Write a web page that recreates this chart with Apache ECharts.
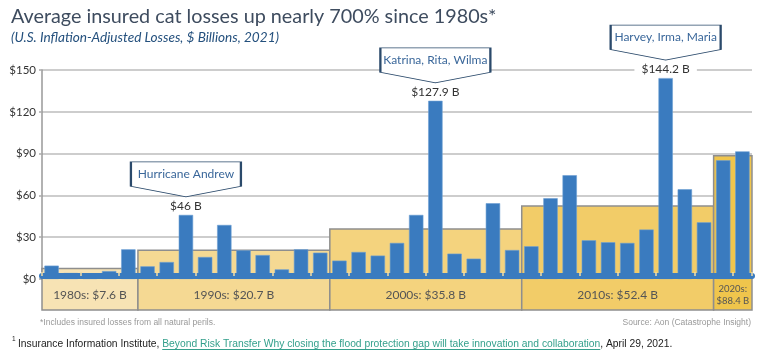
<!DOCTYPE html>
<html>
<head>
<meta charset="utf-8">
<script src="https://cdn.jsdelivr.net/npm/echarts@6/dist/echarts.min.js"></script>
<style>
html,body{margin:0;padding:0;background:#fff;}
#chart{width:763px;height:356px;}
</style>
</head>
<body>
<div id="chart"></div>
<script>
// ---- data ----
const years = ['1985','1986','1987','1988','1989',
  '1990','1991','1992','1993','1994','1995','1996','1997','1998','1999',
  '2000','2001','2002','2003','2004','2005','2006','2007','2008','2009',
  '2010','2011','2012','2013','2014','2015','2016','2017','2018','2019',
  '2020','2021'];
const losses = [9.6,4.3,3.6,5.7,21.3,
  9.1,12.2,46.0,15.8,38.8,20.6,17.2,6.9,21.3,18.9,
  13.2,19.4,16.8,25.9,46.0,127.9,18.2,14.6,54.4,20.8,
  23.5,58.0,74.5,27.8,26.4,25.9,35.5,144.2,64.4,40.7,
  85.2,91.6];
const decadeNames = ['1980s','1990s','2000s','2010s','2020s'];
const decadeStart = ['1985','1990','2000','2010','2020'];
const decadeEnd = ['1989','1999','2009','2019','2021'];
const decadeAvg = [7.6,20.7,35.8,52.4,88.4];
const decadeLabels = ['1980s: $7.6 B','1990s: $20.7 B','2000s: $35.8 B','2010s: $52.4 B','2020s:\n$88.4 B'];
const calloutYears = ['1992','2005','2017'];
const calloutNames = ['Hurricane Andrew','Katrina, Rita, Wilma','Harvey, Irma, Maria'];
const valueLabels = ['$46 B','$127.9 B','$144.2 B'];
const yTicks = [0,30,60,90,120,150];

// ---- styles ----
const decadeColors = ['#f7e3b4','#f5d993','#f4d37e','#f2cc68','#f0c54c'];
const barColor = '#3a7bbf';
const frameColor = '#8e8e8e';
const font = 'Lato, "Open Sans", sans-serif';

const decadeData = decadeNames.map((n,i)=>[years.indexOf(decadeStart[i]), years.indexOf(decadeEnd[i]), decadeAvg[i], i]);

const barData = losses.map((v,i)=>{
  const k = calloutYears.indexOf(years[i]);
  if (k < 0) return v;
  return {value: v, label: {show: true, position: 'top', distance: 2, formatter: valueLabels[k],
    color: '#333', fontSize: 12, fontFamily: font, backgroundColor: '#fff', padding: [1,7]}};
});

const chart = echarts.init(document.getElementById('chart'));

// footnote measurement
const mctx = document.createElement('canvas').getContext('2d');
function tw(txt, f){ mctx.font = f; return mctx.measureText(txt).width; }
const fnFont = '10.3px "Liberation Sans", Arial, sans-serif';
const fn1 = 'Insurance Information Institute, ';
const fn2 = 'Beyond Risk Transfer Why closing the flood protection gap will take innovation and collaboration';
const fn3 = ', April 29, 2021.';
const fx0 = 18, fy = 344;
const w1 = tw(fn1, fnFont), w2 = tw(fn2, fnFont);

chart.setOption({
  animation: false,
  title: {
    text: 'Average insured cat losses up nearly 700% since 1980s*',
    subtext: '(U.S. Inflation-Adjusted Losses, $ Billions, 2021)',
    left: 6, top: 2, itemGap: 4,
    textStyle: {fontSize: 19.8, fontWeight: 'normal', color: '#3e4c5f', fontFamily: font},
    subtextStyle: {fontSize: 13.6, fontStyle: 'italic', color: '#24507d', fontFamily: font}
  },
  grid: [
    {left: 42, right: 11, top: 70, bottom: 77, outerBoundsMode: 'none'},
    {left: 42, right: 11, top: 279, height: 31, outerBoundsMode: 'none'}
  ],
  xAxis: [
    {type: 'category', data: years, gridIndex: 0, z: 10, offset: -3,
      axisLine: {show: true, lineStyle: {color: barColor, width: 6}},
      axisTick: {show: true, inside: true, length: 4, lineStyle: {color: '#f4dea6', width: 1.5}},
      axisLabel: {show: false}, splitLine: {show: false}},
    {type: 'category', data: years, gridIndex: 1, show: false}
  ],
  yAxis: [
    {type: 'value', gridIndex: 0, min: 0, max: 150, interval: 30,
      axisLine: {show: true, lineStyle: {color: '#999', width: 1.5}},
      axisTick: {show: true, length: 3, lineStyle: {color: '#aaa', width: 1.5}},
      axisLabel: {formatter: v => '$' + v, color: '#333', fontSize: 11.5, fontFamily: font, margin: 6},
      splitLine: {show: true, lineStyle: {color: '#bdbdbd', width: 1.5}}},
    {type: 'value', gridIndex: 1, min: 0, max: 1, show: false}
  ],
  series: [
    {
      type: 'custom', xAxisIndex: 0, yAxisIndex: 0, z: 1, encode: {x: 0, y: 2},
      clip: false, silent: true,
      data: decadeData,
      renderItem: (params, api) => {
        const i0 = api.value(0), i1 = api.value(1), avg = api.value(2), ci = api.value(3);
        const bw = api.size([1, 0])[0];
        const p0 = api.coord([i0, avg]);
        const p1 = api.coord([i1, 0]);
        const x0 = p0[0] - bw / 2, x1 = p1[0] + bw / 2;
        return {type: 'group', children: [
          {type: 'rect', shape: {x: x0, y: p0[1], width: x1 - x0, height: p1[1] - p0[1]},
            style: {fill: decadeColors[ci]}},
          {type: 'polyline', shape: {points: [[x0, p1[1]], [x0, p0[1]], [x1, p0[1]], [x1, p1[1]]]},
            style: {fill: null, stroke: frameColor, lineWidth: 1.5}}
        ]};
      }
    },
    {
      type: 'custom', xAxisIndex: 1, yAxisIndex: 1, z: 1, encode: {x: 0, y: 2},
      clip: false, silent: true,
      data: decadeData,
      renderItem: (params, api) => {
        const i0 = api.value(0), i1 = api.value(1), ci = api.value(3);
        const bw = api.size([1, 0])[0];
        const p0 = api.coord([i0, 1]);
        const p1 = api.coord([i1, 0]);
        const x0 = p0[0] - bw / 2, x1 = p1[0] + bw / 2;
        const small = ci === 4;
        return {type: 'group', children: [
          {type: 'rect', shape: {x: x0, y: p0[1], width: x1 - x0, height: p1[1] - p0[1]},
            style: {fill: decadeColors[ci]}},
          {type: 'polyline', shape: {points: [[x0, p0[1]], [x0, p1[1]], [x1, p1[1]], [x1, p0[1]]]},
            style: {fill: null, stroke: frameColor, lineWidth: 1.5}},
          {type: 'text', style: {text: decadeLabels[ci], x: (x0 + x1) / 2, y: (p0[1] + p1[1]) / 2 + (small ? 0 : 1),
            align: 'center', verticalAlign: 'middle', fill: '#555',
            fontSize: small ? 9.5 : 12, lineHeight: small ? 12 : 14, fontFamily: font}}
        ]};
      }
    },
    {
      type: 'bar', xAxisIndex: 0, yAxisIndex: 0, z: 3,
      data: barData, barWidth: '75%',
      itemStyle: {color: barColor, borderColor: '#6d9fd3', borderWidth: 0.6},
      markPoint: {
        symbol: 'path://M0,0L110,0L110,24.5L55,35L0,24.5Z',
        symbolSize: [110, 35],
        symbolOffset: [0, -35.5],
        symbolKeepAspect: false,
        itemStyle: {color: '#fff', borderColor: '#2b4a6b', borderWidth: 1.3},
        label: {show: true, position: 'inside', offset: [0, -5], formatter: '{b}',
          color: '#3a679a', fontSize: 12, fontFamily: font},
        data: calloutYears.map((y, k) => ({name: calloutNames[k], coord: [y, losses[years.indexOf(y)]]}))
      }
    }
  ],
  graphic: [
    {type: 'text', left: 40, top: 318, style: {text: '*Includes insured losses from all natural perils.',
      fill: '#999', fontSize: 8.5, fontFamily: '"Liberation Sans Narrow", "Liberation Sans", sans-serif'}},
    {type: 'text', right: 12, top: 318, style: {text: 'Source: Aon (Catastrophe Insight)',
      fill: '#999', fontSize: 8.5, fontFamily: '"Liberation Sans Narrow", "Liberation Sans", sans-serif'}},
    {type: 'text', x: fx0 - 6, y: fy - 8, style: {text: '1', fill: '#222', fontSize: 6.5, fontFamily: '"Liberation Sans", sans-serif'}},
    {type: 'text', x: fx0, y: fy, style: {text: fn1, fill: '#222', font: fnFont, verticalAlign: 'middle'}},
    {type: 'text', x: fx0 + w1, y: fy, style: {text: fn2, fill: '#35a08c', font: fnFont, verticalAlign: 'middle'}},
    {type: 'line', shape: {x1: fx0 + w1, y1: fy + 5.5, x2: fx0 + w1 + w2, y2: fy + 5.5}, style: {stroke: '#35a08c', lineWidth: 1}},
    {type: 'text', x: fx0 + w1 + w2, y: fy, style: {text: fn3, fill: '#222', font: fnFont, verticalAlign: 'middle'}}
  ]
});
</script>
</body>
</html>
